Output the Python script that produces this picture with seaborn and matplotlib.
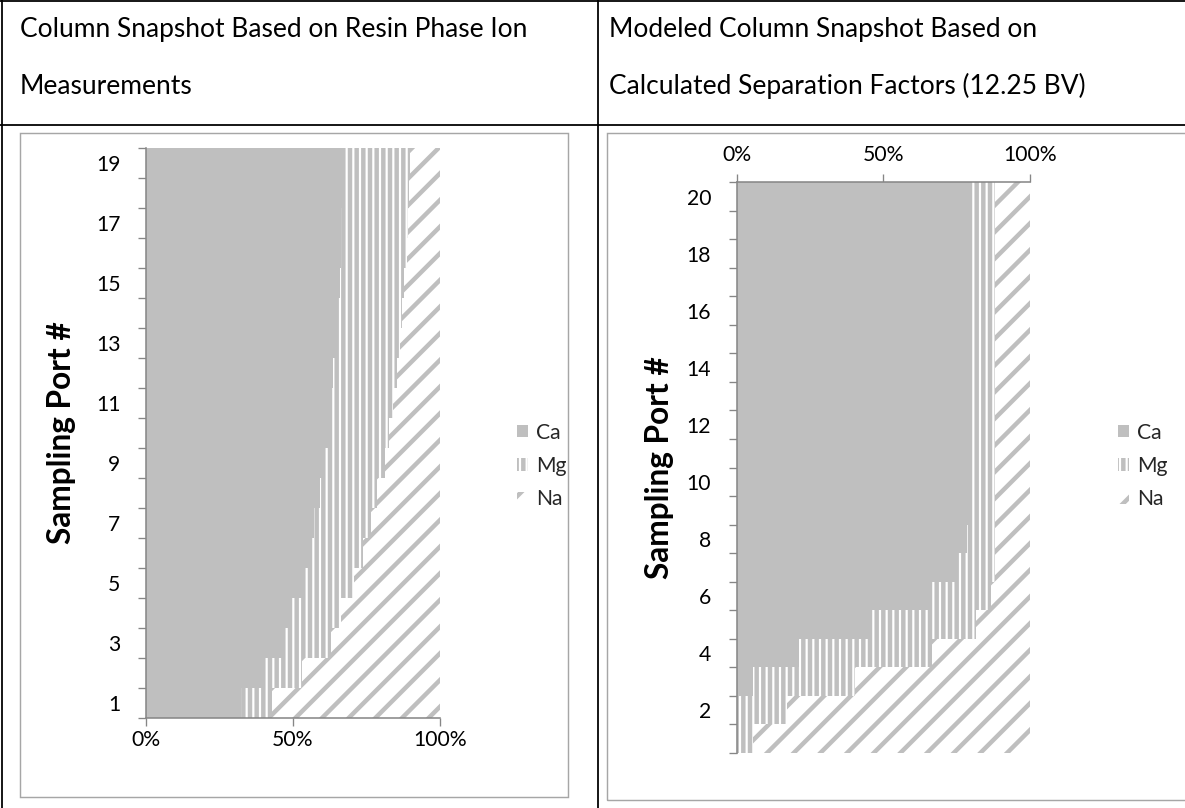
import numpy as np
import pandas as pd
import seaborn as sns
import matplotlib.pyplot as plt
from matplotlib.patches import Patch, Rectangle
from matplotlib.lines import Line2D

# ---------------- data ----------------
ions = ["Ca", "Mg", "Na"]
left_title = ["Column Snapshot Based on Resin Phase Ion", "Measurements"]
right_title = ["Modeled Column Snapshot Based on", "Calculated Separation Factors (12.25 BV)"]
x_ticks = [0, 50, 100]
x_tick_labels = ["0%", "50%", "100%"]
y_label = "Sampling Port #"

measured_ports = [1, 2, 3, 4, 5, 6, 7, 8, 9, 10, 11, 12, 13, 14, 15, 16, 17, 18, 19]
measured_ca = [32.2, 40.1, 46.7, 49.7, 53.2, 56.0, 57.3, 59.2, 61.0, 62.0,
               63.2, 63.7, 64.2, 65.4, 66.0, 66.2, 66.4, 66.9, 67.3]
measured_mg = [10.8, 13.1, 16.1, 16.5, 17.5, 17.9, 19.1, 19.5, 20.3, 20.8,
               20.9, 21.6, 22.2, 21.8, 21.9, 22.5, 22.8, 22.7, 22.5]
measured_na = [57.0, 46.8, 37.2, 33.8, 29.3, 26.1, 23.6, 21.3, 18.7, 17.2,
               15.9, 14.7, 13.6, 12.8, 12.1, 11.3, 10.8, 10.4, 10.2]

modeled_ports = [1, 2, 3, 4, 5, 6, 7, 8, 9, 10, 11, 12, 13, 14, 15, 16, 17, 18, 19, 20]
modeled_ca = [0.0, 0.0, 5.7, 21.3, 46.0, 65.9, 75.3, 78.6, 79.3, 79.8,
              79.8, 79.8, 79.8, 79.8, 79.8, 79.8, 79.8, 79.8, 79.8, 79.8]
modeled_mg = [5.7, 17.0, 34.6, 45.2, 35.6, 20.9, 12.7, 9.5, 8.8, 8.3,
              8.3, 8.3, 8.3, 8.3, 8.3, 8.3, 8.3, 8.3, 8.3, 8.3]
modeled_na = [94.3, 83.0, 59.7, 33.5, 18.4, 13.2, 12.0, 11.9, 11.9, 11.9,
              11.9, 11.9, 11.9, 11.9, 11.9, 11.9, 11.9, 11.9, 11.9, 11.9]

# ---------------- style ----------------
DPI = 80
W, H = 1185, 808
GREY = "#BFBFBF"
AXIS = "#868686"
BOX = "#A6A6A6"
TICK_FS = 19

sns.set_theme(style="white")
plt.rcParams["font.family"] = ["Lato", "DejaVu Sans"]
plt.rcParams["hatch.linewidth"] = 4.0
plt.rcParams["hatch.color"] = GREY

STYLE = {"Ca": ("#BFBFBF", None), "Mg": ("white", "||"), "Na": ("white", "/")}

fig = plt.figure(figsize=(W / DPI, H / DPI), dpi=DPI)


def px2fig(x, y):
    return x / W, 1 - y / H


def axes_rect(x0, y0, x1, y1):
    return [x0 / W, 1 - y1 / H, (x1 - x0) / W, (y1 - y0) / H]


# table lines
for (xa, ya, xb, yb) in [(0, 1, W, 1), (1.5, 0, 1.5, H), (598, 0, 598, H), (0, 125, W, 125)]:
    fig.add_artist(Line2D([xa / W, xb / W], [1 - ya / H, 1 - yb / H], color="black", lw=1.6))

# chart boxes
for (x0, y0, x1, y1) in [(20, 133, 568, 797), (607, 133, 1200, 800)]:
    fig.add_artist(Rectangle((x0 / W, 1 - y1 / H), (x1 - x0) / W, (y1 - y0) / H,
                             fill=False, edgecolor=BOX, lw=1.3, transform=fig.transFigure))

# titles
for (x, y, s) in [(20, 30, left_title[0]), (20, 86, left_title[1]),
                  (609, 30, right_title[0]), (609, 86, right_title[1])]:
    fx, fy = px2fig(x, y)
    fig.text(fx, fy, s, ha="left", va="center", fontsize=23.7, color="black")


def draw_panel(ax, ports, ca, mg, na, label_parity, top_axis):
    df = pd.DataFrame({"port": ports, "Ca": ca, "Mg": mg, "Na": na})
    df["cum_Ca"] = df["Ca"]
    df["cum_Mg"] = df["Ca"] + df["Mg"]
    df["cum_Na"] = df["Ca"] + df["Mg"] + df["Na"]
    order = sorted(ports, reverse=True)
    for ion in ["Na", "Mg", "Ca"]:
        face, hatch = STYLE[ion]
        n0 = len(ax.patches)
        sns.barplot(data=df, x="cum_" + ion, y="port", order=order, orient="h",
                    width=1.0, color=face, saturation=1, errorbar=None, ax=ax)
        for p in ax.patches[n0:]:
            p.set_facecolor(face)
            p.set_edgecolor(GREY)
            p.set_linewidth(0)
            p.set_hatch(hatch)
            p.set_antialiased(False)
    n = len(ports)
    ax.set_xlim(0, 100)
    ax.set_ylim(n - 0.5, -0.5)
    ax.set_xticks(x_ticks)
    ax.set_xticklabels(x_tick_labels)
    ax.set_yticks(range(n))
    ax.set_yticklabels([str(p) if p % 2 == label_parity else "" for p in order])
    ax.set_yticks(np.arange(-0.5, n, 1), minor=True)
    ax.tick_params(axis="y", which="major", length=0, pad=23, labelsize=TICK_FS, labelcolor="black")
    ax.tick_params(axis="y", which="minor", length=7, width=1.2, color=AXIS, direction="out", left=True)
    ax.set_xlabel("")
    ax.set_ylabel(y_label, fontsize=28.5, fontweight="bold", color="black", va="center")
    for s in ax.spines.values():
        s.set_visible(False)
    ax.spines["left"].set_visible(True)
    ax.spines["left"].set_color(AXIS)
    ax.spines["left"].set_linewidth(1.4)
    if top_axis:
        ax.xaxis.tick_top()
        ax.spines["top"].set_visible(True)
        ax.spines["top"].set_color(AXIS)
        ax.spines["top"].set_linewidth(1.4)
        ax.tick_params(axis="x", which="major", top=True, bottom=False, length=7, width=1.2,
                       color=AXIS, pad=9, labelsize=TICK_FS, labelcolor="black")
    else:
        ax.spines["bottom"].set_visible(True)
        ax.spines["bottom"].set_color(AXIS)
        ax.spines["bottom"].set_linewidth(1.4)
        ax.tick_params(axis="x", which="major", bottom=True, length=7, width=1.2,
                       color=AXIS, pad=4, labelsize=TICK_FS, labelcolor="black")
    ax.grid(False)
    ax.set_facecolor("none")


axL = fig.add_axes(axes_rect(146, 148, 440, 718))
draw_panel(axL, measured_ports, measured_ca, measured_mg, measured_na, 1, False)
axL.yaxis.set_label_coords((62 - 146) / 294, 0.5)

axR = fig.add_axes(axes_rect(736.7, 182.3, 1030, 752.7))
draw_panel(axR, modeled_ports, modeled_ca, modeled_mg, modeled_na, 0, True)
axR.yaxis.set_label_coords((660 - 736.7) / 293.3, 0.5)


def legend_for(ax, x_px, y_px):
    handles = [Patch(facecolor=STYLE[i][0], edgecolor=GREY, lw=0, hatch=STYLE[i][1], label=i)
               for i in ions]
    fx, fy = px2fig(x_px, y_px)
    ax.legend(handles=handles, loc="center left", bbox_to_anchor=(fx, fy),
              bbox_transform=fig.transFigure, frameon=False, fontsize=TICK_FS,
              handlelength=0.5, handleheight=0.5, handletextpad=0.4,
              labelspacing=0.62, borderpad=0, borderaxespad=0)


legend_for(axL, 517, 466)
legend_for(axR, 1118, 466)

fig.savefig("out.png", dpi=DPI)
